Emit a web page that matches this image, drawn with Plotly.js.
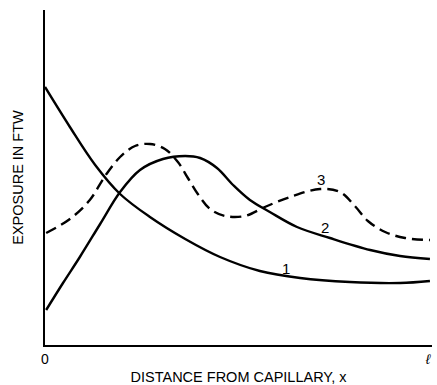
<!DOCTYPE html>
<html>
<head>
<meta charset="utf-8">
<script src="https://cdn.plot.ly/plotly-3.0.1.min.js"></script>
<style>
  html, body { margin: 0; padding: 0; background: #fff; }
  #chart { width: 437px; height: 385px; }
</style>
</head>
<body>
<div id="chart"></div>
<script>
// Distance from the capillary, in units of the full length l (0 .. 1)
const x1 = [0, 0.065, 0.131, 0.196, 0.274, 0.366, 0.457, 0.561, 0.666, 0.796, 0.927, 1.005];
const exposure1 = [258, 218, 180, 151, 128, 106, 88, 74, 67, 63, 62, 64];

const x2 = [0.003, 0.047, 0.091, 0.144, 0.196, 0.248, 0.308, 0.366, 0.405, 0.449, 0.491, 0.535, 0.587, 0.658, 0.744, 0.849, 0.927, 1.005];
const exposure2 = [35, 62, 88, 121, 153, 175, 186, 189, 187, 177, 160, 145, 133, 118, 107, 95, 89, 86];

const x3 = [0.003, 0.065, 0.117, 0.157, 0.196, 0.235, 0.274, 0.313, 0.347, 0.373, 0.399, 0.431, 0.470, 0.522, 0.574, 0.640, 0.718, 0.770, 0.809, 0.843, 0.888, 0.940, 1.005];
const exposure3 = [112, 126, 145, 169, 188, 199, 201, 196, 183, 167, 151, 136, 129, 129, 138, 148, 156, 153, 139, 124, 113, 107, 105];

// Curve numbers and where they sit
const curveLabels = ["1", "2", "3"];
const labelX = [0.629, 0.731, 0.721];
const labelY = [77, 118, 166];

// Axis ticks: origin and full length
const tickVals = [0, 1];
const tickText = ["0", "<i>ℓ</i>"];

const ink = "#000";
const font = "Liberation Sans, Arial, sans-serif";

const line = (dash) => ({ color: ink, width: 2.4, shape: "spline", smoothing: 1, dash: dash });

const traces = [
  { x: x1, y: exposure1, mode: "lines", line: line("solid"), hoverinfo: "skip" },
  { x: x2, y: exposure2, mode: "lines", line: line("solid"), hoverinfo: "skip" },
  { x: x3, y: exposure3, mode: "lines", line: line("11px,6px"), hoverinfo: "skip" }
];

const annotations = curveLabels.map((t, i) => ({
  x: labelX[i], y: labelY[i], xref: "x", yref: "y",
  text: t, showarrow: false,
  font: { family: font, size: 15, color: ink }
}));

const layout = {
  width: 437, height: 385,
  margin: { l: 45, r: 5, t: 10, b: 40 },
  paper_bgcolor: "#fff", plot_bgcolor: "#fff",
  showlegend: false,
  xaxis: {
    range: [0, 1.0104],
    showgrid: false, zeroline: false,
    showline: true, linecolor: ink, linewidth: 2,
    ticks: "", tickvals: tickVals, ticktext: tickText,
    tickfont: { family: font, size: 14, color: ink },
    title: { text: "DISTANCE FROM CAPILLARY, x", font: { family: font, size: 14.5, color: ink }, standoff: 6 }
  },
  yaxis: {
    range: [0, 335],
    showgrid: false, zeroline: false,
    showline: true, linecolor: ink, linewidth: 2,
    ticks: "", showticklabels: false,
    title: { text: "EXPOSURE IN FTW", font: { family: font, size: 14.5, color: ink }, standoff: 16 }
  },
  annotations: annotations
};

Plotly.newPlot("chart", traces, layout, { staticPlot: true, displayModeBar: false });
</script>
</body>
</html>
